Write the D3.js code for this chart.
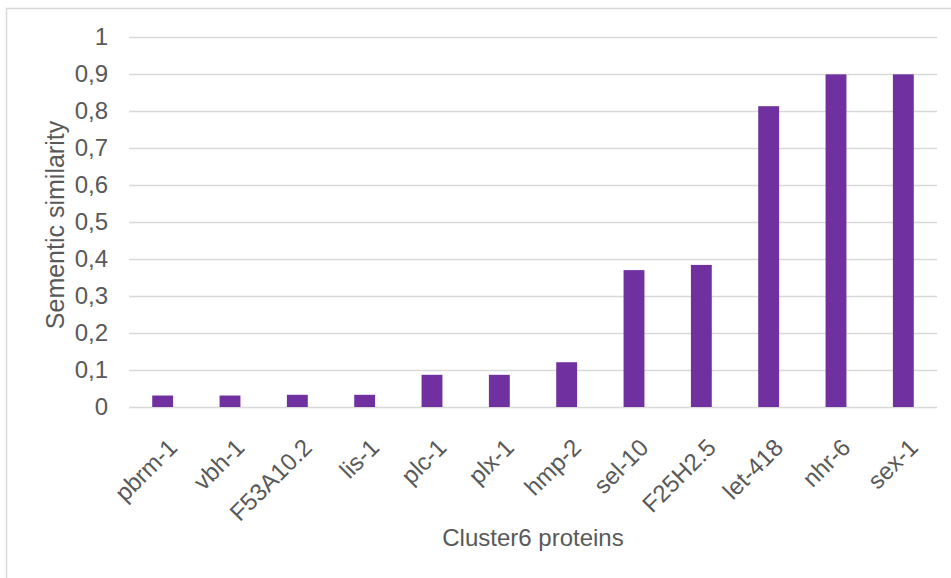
<!DOCTYPE html>
<html>
<head>
<meta charset="utf-8">
<script src="https://cdn.jsdelivr.net/npm/d3@7"></script>
<style>
    body { margin: 0; background: #fff; overflow: hidden; }
    svg { display: block; }
    svg text { font-family: "Liberation Sans", Arial, sans-serif; fill: #595959; }
</style>
</head>
<body>
<svg id="chart" width="951" height="578"></svg>
<script>
var proteins = ["pbrm-1", "vbh-1", "F53A10.2", "lis-1", "plc-1", "plx-1", "hmp-2", "sel-10", "F25H2.5", "let-418", "nhr-6", "sex-1"];
var similarity = [0.031, 0.031, 0.033, 0.033, 0.087, 0.087, 0.121, 0.370, 0.384, 0.813, 0.899, 0.899];
var yTicks = [0, 0.1, 0.2, 0.3, 0.4, 0.5, 0.6, 0.7, 0.8, 0.9, 1];

var dims = {
    left: 129,
    right: 937,
    top: 37,
    bottom: 407
}

var svg = d3.select("#chart");

// chart frame, runs off the right and bottom like the original
svg.append("rect")
    .attr("x", 6.5)
    .attr("y", 8.5)
    .attr("width", 960)
    .attr("height", 620)
    .attr("fill", "none")
    .attr("stroke", "#d9d9d9")
    .attr("stroke-width", 1.5);

var yScale = d3.scaleLinear()
    .domain([0, 1])
    .range([dims.bottom, dims.top]);

var xScale = d3.scaleBand()
    .domain(proteins)
    .range([dims.left, dims.right])
    .paddingInner(0.69)
    .paddingOuter(0.345);

//gridlines + y labels
var yAxis = svg.append("g")
    .attr("transform", `translate(${dims.left}, 0)`)
    .call(d3.axisLeft(yScale)
        .tickValues(yTicks)
        .tickSize(-(dims.right - dims.left))
        .tickPadding(21)
        .tickFormat(d => d3.format(".1~f")(d).replace(".", ",")));

yAxis.select(".domain").remove();
yAxis.selectAll(".tick line")
    .attr("stroke", "#d9d9d9")
    .attr("stroke-width", 1.5);
yAxis.selectAll(".tick text")
    .style("font-size", "24px")
    .attr("fill", "#595959");

//bars
svg.selectAll("rect.bar")
    .data(proteins)
    .enter()
    .append("rect")
    .attr("class", "bar")
    .attr("x", d => xScale(d))
    .attr("width", xScale.bandwidth())
    .attr("y", (d, i) => yScale(similarity[i]))
    .attr("height", (d, i) => yScale(0) - yScale(similarity[i]))
    .attr("fill", "#7030A0");

//x labels, rotated
svg.append("g")
    .selectAll("text")
    .data(proteins)
    .enter()
    .append("text")
    .attr("transform", d => `translate(${xScale(d) + xScale.bandwidth() / 2 + 16}, 449) rotate(-45)`)
    .attr("text-anchor", "end")
    .style("font-size", "24px")
    .text(d => d);

//axis titles
svg.append("text")
    .attr("x", (dims.left + dims.right) / 2)
    .attr("y", 546)
    .attr("text-anchor", "middle")
    .style("font-size", "24px")
    .text("Cluster6 proteins");

svg.append("text")
    .attr("transform", `translate(64, ${(dims.top + dims.bottom) / 2 + 3}) rotate(-90)`)
    .attr("text-anchor", "middle")
    .style("font-size", "25px")
    .text("Sementic similarity");
</script>
</body>
</html>
